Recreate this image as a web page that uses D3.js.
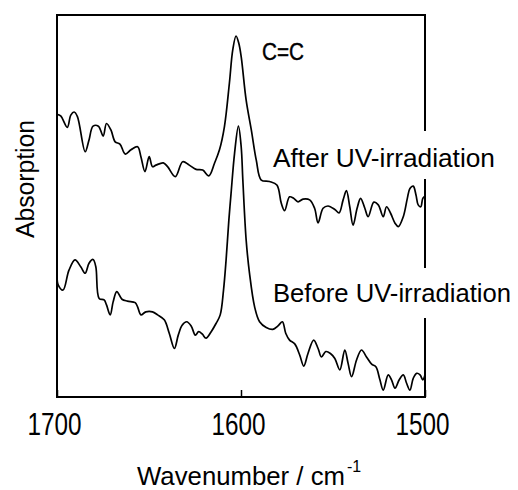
<!DOCTYPE html>
<html>
<head>
<meta charset="utf-8">
<script src="https://cdn.jsdelivr.net/npm/d3@7"></script>
<style>
	body{margin:0;background:#fff;}
	text{font-family:"Liberation Sans",Arial,sans-serif;fill:#000;}
</style>
</head>
<body>
<div id="grafico"></div>
<script>
// valores (absorcion en unidades arbitrarias)
var afterWavenumber = [1700,1698.0,1694.4,1692.5,1690.7,1688.9,1684.7,1682.6,1680.4,1677.5,1674.9,1673.1,1670.7,1668.4,1665.8,1662.9,1659.8,1656.2,1654.4,1652.2,1649.9,1648.1,1646.2,1642.2,1639.9,1635.7,1631.7,1628.1,1624.4,1620.8,1617.5,1614.4,1611.7,1609.0,1606.3,1604.5,1602.7,1601.2,1599.9,1597.2,1594.4,1591.7,1589.0,1584.5,1580.5,1578.1,1576.3,1573.6,1571.4,1569.0,1566.3,1562.7,1560.0,1558.1,1555.4,1552.7,1549.0,1546.7,1544.5,1542.7,1540.9,1539.1,1536.9,1535.0,1532.7,1530.9,1527.8,1525.4,1522.7,1520.9,1518.7,1516.3,1514.5,1511.8,1509.6,1508.2,1506.4,1504.9,1503.7,1502.3,1501.2,1500];
var afterAbsorption = [74.0,73.6,70.6,73.8,74.6,73.4,64.2,67.3,70.9,70.9,68.3,71.6,69.9,66.8,66.2,63.6,64.7,65.5,62.9,59.0,62.9,60.3,60.7,61.3,60.3,57.7,61.6,60.7,59.6,59.4,57.9,61.2,64.7,70.8,82.2,90.8,94.5,92.6,89.1,77.7,69.9,62.0,56.8,56.4,55.5,50.7,48.8,52.4,52.0,51.1,51.8,51.6,49.4,45.6,49.4,50.0,49.1,48.2,51.6,54.0,49.8,45.0,49.4,52.0,49.4,47.2,51.0,50.3,47.2,49.8,48.1,45.5,44.6,47.2,52.0,54.6,55.2,52.9,50.3,49.8,52.0,52.6];

var beforeWavenumber = [1700,1699.3,1696.7,1693.5,1690.2,1687.1,1684.7,1682.6,1680.4,1678.9,1677.1,1674.4,1673.1,1671.1,1669.5,1667.5,1664.7,1661.7,1657.5,1656.2,1654.4,1651.7,1648.1,1645.3,1641.7,1639.0,1636.2,1634.1,1632.0,1629.5,1627.1,1624.8,1623.0,1621.1,1619.0,1616.2,1613.5,1611.3,1609.5,1608.1,1606.6,1605.4,1603.5,1601.4,1599.9,1599.0,1597.2,1595.4,1592.6,1589.9,1586.3,1582.7,1579.9,1577.5,1575.7,1573.6,1570.8,1568.1,1565.9,1563.6,1560.5,1558.1,1556.3,1553.9,1551.4,1549.0,1546.3,1543.6,1541.8,1539.9,1537.2,1534.5,1531.8,1529.0,1526.7,1524.5,1522.7,1520.0,1518.2,1516.3,1514.0,1511.8,1510.0,1508.2,1506.4,1504.5,1502.7,1501.2,1500];
var beforeAbsorption = [31.5,29.3,28.0,33.2,35.9,34.1,32.4,35.0,36.0,34.1,25.8,25.4,24.1,21.5,24.9,27.6,25.6,25.1,24.7,23.6,21.5,22.3,22.3,21.5,20.2,16.7,12.7,16.2,18.8,19.7,18.6,16.2,17.1,16.5,15.4,17.1,19.3,21.5,28.0,35.9,46.3,53.3,63.8,70.9,65.5,56.8,41.1,32.5,23.6,19.7,18.2,17.7,18.6,19.7,16.7,14.9,13.9,11.0,8.1,11.4,14.9,12.7,10.5,11.9,11.4,10.1,7.1,12.3,8.8,5.3,9.7,12.3,10.5,8.6,7.9,4.5,1.8,5.8,4.5,2.3,4.5,5.8,3.6,1.8,4.9,6.2,5.8,4.5,5.8];

var tickLabels = [1700,1600,1500];
var seriesLabels = ["After UV-irradiation","Before UV-irradiation"];
var bandLabel = "C=C";

(function(){
	var ancho = 518, alto = 490;
	var margen = {top:15, right:93, bottom:93, left:57};

	var svg = d3.select("#grafico").append("svg")
		.attr("width",ancho).attr("height",alto);

	var x = d3.scaleLinear().domain([1700,1500]).range([margen.left, ancho-margen.right]);
	var y = d3.scaleLinear().domain([0,100]).range([alto-margen.bottom, margen.top]);

	var linea = d3.line()
		.x(function(d){ return x(d[0]); })
		.y(function(d){ return y(d[1]); })
		.curve(d3.curveCatmullRom.alpha(0.5));

	var despues = d3.zip(afterWavenumber, afterAbsorption);
	var antes = d3.zip(beforeWavenumber, beforeAbsorption);

	svg.append("path").datum(despues)
		.attr("d",linea).attr("fill","none").attr("stroke","#000").attr("stroke-width",1.7);
	svg.append("path").datum(antes)
		.attr("d",linea).attr("fill","none").attr("stroke","#000").attr("stroke-width",1.7);

	// marco
	svg.append("rect")
		.attr("x",x(1700)).attr("y",y(100))
		.attr("width",x(1500)-x(1700)).attr("height",y(0)-y(100))
		.attr("fill","none").attr("stroke","#000").attr("stroke-width",2);

	// eje inferior
	var eje = svg.append("g")
		.attr("transform","translate(0,"+y(0)+")")
		.call(d3.axisBottom(x).tickValues(tickLabels).tickFormat(d3.format("d"))
			.tickSizeInner(-7).tickSizeOuter(0).tickPadding(16));
	eje.select(".domain").remove();
	eje.selectAll("line").attr("stroke-width",1.5);
	eje.selectAll("text")
		.attr("font-family",null).attr("font-size",31).attr("dx",-3)
		.attr("textLength",54).attr("lengthAdjust","spacingAndGlyphs");

	// titulo del eje x, el exponente va aparte
	svg.append("text")
		.attr("x",137).attr("y",485).attr("font-size",25.6)
		.attr("textLength",208).attr("lengthAdjust","spacingAndGlyphs")
		.text("Wavenumber / cm");
	svg.append("text")
		.attr("x",347).attr("y",472).attr("font-size",16)
		.text("-1");

	svg.append("text")
		.attr("transform","translate(34,179) rotate(-90)")
		.attr("text-anchor","middle").attr("font-size",26)
		.attr("textLength",118).attr("lengthAdjust","spacingAndGlyphs")
		.text("Absorption");

	svg.append("text")
		.attr("x",262).attr("y",60).attr("font-size",23)
		.attr("stroke","#000").attr("stroke-width",0.4)
		.attr("textLength",42).attr("lengthAdjust","spacingAndGlyphs")
		.text(bandLabel);

	// etiquetas con fondo blanco que tapa el marco
	var etiquetas = [
		{texto:seriesLabels[0], y:167, largo:222, fondo:[131,179]},
		{texto:seriesLabels[1], y:302, largo:238, fondo:[268,318]}
	];
	for(var i=0;i<etiquetas.length;i++){
		var e = etiquetas[i];
		svg.append("rect")
			.attr("x",270).attr("y",e.fondo[0])
			.attr("width",e.largo+6).attr("height",e.fondo[1]-e.fondo[0])
			.attr("fill","#fff");
		svg.append("text")
			.attr("x",273).attr("y",e.y).attr("font-size",26)
			.attr("textLength",e.largo).attr("lengthAdjust","spacingAndGlyphs")
			.text(e.texto);
	}
})();
</script>
</body>
</html>
